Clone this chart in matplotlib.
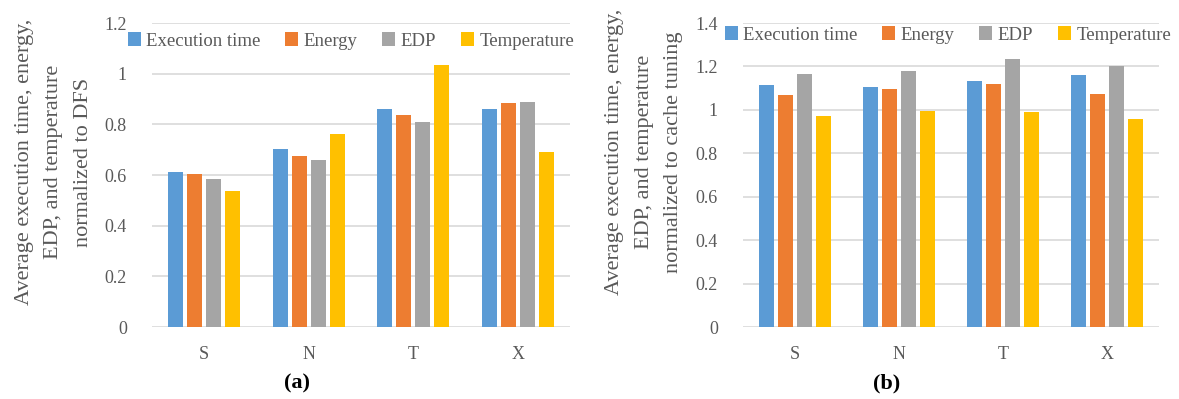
import numpy as np
import matplotlib
matplotlib.use("Agg")
import matplotlib.pyplot as plt

plt.rcParams['font.family'] = ['Liberation Serif', 'DejaVu Serif']

categories = ["S", "N", "T", "X"]
series = ["Execution time", "Energy", "EDP", "Temperature"]

# (a) normalized to DFS
exec_a = [0.613, 0.704, 0.861, 0.861]
energy_a = [0.604, 0.675, 0.837, 0.884]
edp_a = [0.585, 0.658, 0.809, 0.888]
temp_a = [0.537, 0.761, 1.034, 0.691]

# (b) normalized to cache tuning
exec_b = [1.113, 1.103, 1.135, 1.160]
energy_b = [1.067, 1.095, 1.118, 1.073]
edp_b = [1.163, 1.178, 1.232, 1.203]
temp_b = [0.970, 0.994, 0.988, 0.960]

colors = ["#5B9BD5", "#ED7D31", "#A5A5A5", "#FFC000"]
text_color = "#595959"
grid_color = "#D9D9D9"

fig = plt.figure(figsize=(11.79, 3.99), dpi=100)
W, H = 1179, 399


def panel(rect, data, ymax, ylabel, label_xy, legend_y, legend_x, caption, cap_x):
    ax = fig.add_axes(rect)
    x = np.arange(len(categories))
    width = 0.145
    step = 0.182
    handles = []
    for i, (vals, c) in enumerate(zip(data, colors)):
        h = ax.bar(x + (i - 1.5) * step, vals, width, color=c, label=series[i], zorder=3)
        handles.append(h)
    ax.set_xlim(-0.5, 3.5)
    ax.set_ylim(0, ymax)
    ticks = np.arange(0, ymax + 0.001, 0.2)
    ax.set_yticks(ticks)
    ax.set_yticklabels(["%g" % round(v, 1) for v in ticks])
    ax.set_xticks(x)
    ax.set_xticklabels(categories)
    ax.tick_params(length=0, colors=text_color, labelsize=13)
    ax.tick_params(axis='x', pad=14)
    ax.tick_params(axis='y', pad=18)
    for s in ax.spines.values():
        s.set_visible(False)
    ax.grid(axis='y', color=grid_color, linewidth=1.2, zorder=0)
    ax.set_ylabel(ylabel, color=text_color, fontsize=16, linespacing=1.75)
    ax.yaxis.set_label_coords(*label_xy)
    fig.legend(handles=handles, loc='center', bbox_to_anchor=(legend_x, legend_y),
               ncol=4, frameon=False, fontsize=13.5, labelcolor=text_color,
               handlelength=0.7, handleheight=0.7, handletextpad=0.3, columnspacing=1.3)
    fig.text(cap_x, 1 - 383 / H, caption, ha='center', va='center', fontsize=16,
             fontweight='bold', color='black')
    return ax


top = 23
bottom = 327
panel([152 / W, 1 - bottom / H, (570 - 152) / W, (bottom - top) / H],
      [exec_a, energy_a, edp_a, temp_a], 1.2,
      "Average execution time, energy,\nEDP, and temperature\nnormalized to DFS",
      ((93 - 152) / 418, (327 - 162) / 304),
      1 - 41 / H, 351 / W, "(a)", 297 / W)
panel([743 / W, 1 - bottom / H, (1159 - 743) / W, (bottom - top) / H],
      [exec_b, energy_b, edp_b, temp_b], 1.4,
      "Average execution time, energy,\nEDP, and temperature\nnormalized to cache tuning",
      ((683 - 743) / 416, (327 - 152) / 304),
      1 - 35 / H, 948 / W, "(b)", 887 / W)

fig.savefig("out.png", dpi=100)
